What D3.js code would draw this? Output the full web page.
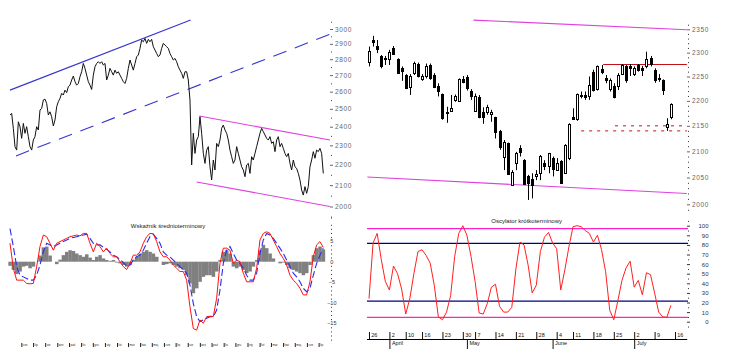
<!DOCTYPE html>
<html>
<head>
<meta charset="utf-8">
<script src="https://cdnjs.cloudflare.com/ajax/libs/d3/7.8.5/d3.min.js"></script>
<style>
body { margin: 0; background: #fff; }
svg { display: block; font-family: "Liberation Sans", Arial, sans-serif; }
</style>
</head>
<body>
<div id="viz"></div>
<script>
"use strict";

// lewy panel: WIG20 dziennie (odczyt z wykresu)
var wigDaily = [2465,2474,2391,2293,2275,2427,2400,2337,2418,2364,2400,2346,2293,2275,2328,2346,2400,2382,2493,2502,
	2551,2556,2531,2465,2483,2455,2404,2437,2512,2541,2560,2590,2580,2609,2594,2629,2639,2670,2694,2660,
	2639,2649,2690,2721,2773,2742,2700,2660,2639,2613,2700,2752,2773,2784,2773,2784,2763,2773,2670,2700,
	2742,2721,2700,2731,2711,2721,2700,2680,2660,2649,2680,2742,2795,2763,2731,2773,2816,2827,2870,2925,
	2914,2936,2903,2930,2914,2930,2881,2859,2837,2816,2827,2870,2903,2892,2881,2870,2837,2816,2795,2805,
	2784,2752,2731,2711,2680,2721,2721,2670,2551,2199,2364,2258,2328,2346,2455,2364,2258,2207,2275,2293,
	2190,2125,2224,2174,2310,2293,2328,2391,2409,2382,2364,2328,2275,2241,2207,2224,2293,2258,2224,2190,
	2174,2141,2199,2207,2157,2241,2224,2258,2293,2328,2364,2391,2373,2355,2337,2328,2346,2310,2319,2267,
	2328,2346,2293,2310,2284,2258,2241,2258,2207,2174,2224,2190,2182,2157,2125,2077,2053,2093,2061,2093,
	2190,2224,2267,2233,2275,2267,2284,2258,2157]

var macdLine = [4.5,-1.6,-4.5,-4.5,-4.5,-5.3,-5.4,-5.3,-1.2,3.7,
	6.5,6.1,4.5,2.8,4.5,4.9,5.3,5.7,6.1,6.3,
	6.5,6.3,6.9,6.9,4.5,2.4,4.5,3.7,2.4,3.3,
	2.0,1.2,1.2,0,-1.2,-1.9,-0.4,1.6,1.6,2.4,
	4.5,6.1,6.9,6.8,4.9,2.4,1.2,1.2,0.4,-0.8,
	-1.6,-2.4,-2.4,-4.5,-11.0,-16.3,-16.7,-14.2,-15.0,-13.4,
	-13.3,-13.4,-8.9,-0.4,3.3,3.3,2.8,-0.4,0.4,0,
	-2.8,-4.9,-4.9,-4.9,-1.6,5.3,6.9,7.3,6.9,5.3,
	3.7,2.0,0.8,-0.8,-3.3,-4.5,-5.3,-6.5,-8.1,-8.1,
	-4.9,1.2,4.1,4.9,3.5]

var macdSignal = [8.1,3.7,-1.2,-3.3,-3.7,-4.1,-4.5,-4.5,-3.3,-0.8,
	2.4,4.5,4.1,3.7,4.1,4.5,4.9,5.3,5.7,5.9,
	6.1,6.3,6.5,6.7,5.7,4.5,4.1,4.1,3.5,3.0,
	2.4,1.6,1.2,0.6,-0.2,-1.1,-0.8,0.4,1.2,1.6,
	2.8,4.5,6.1,6.7,5.7,4.5,2.4,1.6,1.2,0.4,
	-0.4,-1.2,-1.9,-2.8,-5.7,-10.2,-13.4,-14.6,-14.2,-13.8,
	-13.4,-13.4,-11.8,-6.9,-0.4,2.8,3.7,2.0,0.4,-0.4,
	-1.6,-3.3,-4.5,-4.5,-2.8,2.0,5.3,6.9,6.5,5.7,
	4.5,3.3,2.0,0.4,-1.2,-2.8,-3.7,-4.9,-6.5,-7.3,
	-6.5,-3.3,-0.4,1.6,3.3]

var macdHist = [-1.0,-2.0,-3.0,-2.4,-1.2,-1.0,-1.6,-1.2,0,1.5,
	3.5,3.7,1.5,0,-0.6,0.5,1.6,2.4,2.8,2.6,
	2.0,1.6,1.2,1.8,1.0,0.4,1.2,1.6,0.8,0.4,
	0.2,0.4,-0.2,-0.4,-0.8,-1.2,-0.8,0.5,1.2,2.0,
	2.4,2.8,2.4,2.0,1.2,0,-0.8,-0.6,-0.4,-0.8,
	-1.2,-1.6,-2.0,-3.3,-5.3,-7.7,-6.5,-4.9,-3.7,-3.3,
	-3.3,-3.7,-2.4,0.4,2.4,2.8,2.0,-1.2,-1.6,-1.2,
	-2.0,-2.8,-2.4,-1.2,0.4,2.8,4.1,3.3,2.0,0.8,
	0,-0.4,-0.2,-0.8,-1.6,-2.0,-2.4,-2.8,-3.3,-2.8,
	-0.8,1.6,3.3,3.7,3.0]

// linie trendu: [indeks, wartosc]
var blueTop = [[0, 2609], [108.4, 3062]]
var blueBottom = [[3.6, 2245], [193.8, 2972]]
var pinkTopL = [[113.6, 2459], [192, 2328]]
var pinkBottomL = [[112, 2115], [192, 2000]]

var leftStart = "2010-05-03", leftEnd = "2012-07-13"
var monthShortPl = ["sty","lut","mar","kwi","maj","cze","lip","sie","wrz","paź","lis","gru"]

// prawy panel: sesje 26.03 - 13.07.2012
var tradeDays = ["2012-03-26","2012-03-27","2012-03-28","2012-03-29","2012-03-30",
	"2012-04-02","2012-04-03","2012-04-04","2012-04-05",
	"2012-04-10","2012-04-11","2012-04-12","2012-04-13",
	"2012-04-16","2012-04-17","2012-04-18","2012-04-19","2012-04-20",
	"2012-04-23","2012-04-24","2012-04-25","2012-04-26","2012-04-27",
	"2012-04-30","2012-05-02","2012-05-04",
	"2012-05-07","2012-05-08","2012-05-09","2012-05-10","2012-05-11",
	"2012-05-14","2012-05-15","2012-05-16","2012-05-17","2012-05-18",
	"2012-05-21","2012-05-22","2012-05-23","2012-05-24","2012-05-25",
	"2012-05-28","2012-05-29","2012-05-30","2012-05-31","2012-06-01",
	"2012-06-04","2012-06-05","2012-06-06","2012-06-08",
	"2012-06-11","2012-06-12","2012-06-13","2012-06-14","2012-06-15",
	"2012-06-18","2012-06-19","2012-06-20","2012-06-21","2012-06-22",
	"2012-06-25","2012-06-26","2012-06-27","2012-06-28","2012-06-29",
	"2012-07-02","2012-07-03","2012-07-04","2012-07-05","2012-07-06",
	"2012-07-09","2012-07-10","2012-07-11","2012-07-12","2012-07-13"]
var axisExtraDays = ["2012-07-16"]

var candleOpen = [2281,2328,2314,2293,2287,2286,2309,2286,2268,2253,2228,2257,2276,2244,2251,2274,2253,2230,2213,2178,
	2180,2202,2200,2245,2248,2220,2180,2207,2178,2178,2173,2167,2139,2090,2116,2036,2077,2106,2083,2052,
	2048,2053,2058,2077,2071,2087,2065,2082,2058,2088,2168,2163,2212,2212,2209,2260,2224,2266,2246,2224,
	2230,2230,2255,2272,2272,2255,2274,2267,2271,2288,2264,2246,2243,2147,2167]
var candleHigh = [2313,2336,2327,2295,2293,2306,2314,2288,2271,2255,2255,2281,2279,2255,2277,2277,2257,2236,2215,2188,
	2212,2213,2246,2251,2253,2224,2215,2212,2187,2192,2182,2168,2142,2122,2117,2064,2099,2112,2085,2055,
	2058,2064,2093,2083,2097,2090,2087,2083,2114,2155,2185,2215,2219,2219,2250,2264,2273,2274,2253,2246,
	2236,2257,2276,2274,2276,2271,2276,2272,2302,2293,2267,2255,2244,2165,2195]
var candleLow = [2271,2313,2299,2267,2274,2274,2295,2257,2241,2224,2212,2253,2248,2241,2246,2243,2226,2209,2162,2156,
	2178,2198,2198,2236,2221,2202,2178,2165,2154,2172,2158,2125,2103,2064,2055,2034,2064,2090,2036,2008,
	2011,2045,2045,2064,2058,2052,2063,2039,2057,2083,2162,2160,2205,2202,2202,2219,2221,2255,2236,2219,
	2205,2222,2253,2237,2251,2251,2260,2251,2267,2271,2237,2239,2212,2140,2163]
var candleClose = [2304,2323,2307,2271,2288,2302,2297,2258,2262,2226,2251,2279,2251,2251,2272,2246,2229,2221,2165,2175,
	2185,2209,2245,2239,2226,2209,2210,2167,2167,2187,2178,2138,2109,2119,2057,2061,2096,2099,2038,2039,
	2036,2057,2091,2071,2096,2067,2077,2040,2112,2154,2164,2214,2209,2207,2233,2222,2272,2260,2243,2243,
	2207,2253,2274,2243,2267,2267,2264,2264,2286,2276,2243,2244,2222,2153,2194]

var stochK = [24,82,92,65,42,33,58,50,34,8,24,50,73,75,69,61,38,5,2,10,
	27,68,92,100,90,68,42,9,8,19,36,39,16,10,10,15,55,83,80,59,
	30,38,73,88,93,82,76,33,54,78,99,100,99,95,92,83,90,75,52,12,
	2,22,43,56,63,36,43,28,51,49,30,10,5,4.6,17]
var stochOuter = [4.5, 97]
var stochInner = [21.5, 81.5]

var pinkTopR = [[25.6, 2370], [77.9, 2349]]
var pinkBottomR = [[-0.4, 2051], [77.9, 2020]]
var resistance = [[57.4, 2275], [77.9, 2275]]
var supportA = [[60.3, 2150], [77.9, 2150]]
var supportB = [[52, 2140], [77.9, 2140]]
var monthNamesEn = ["January","February","March","April","May","June","July","August","September","October","November","December"]

var svg = d3.select("#viz")
	.append("svg")
	.attr("width", 733)
	.attr("height", 363)

svg.append("rect").attr("width", 733).attr("height", 363).attr("fill", "#fff")

var cleanAxis = function(g, size, color) {
	g.select(".domain").remove()
	g.attr("font-family", "Liberation Sans, Arial, sans-serif").attr("font-size", size)
	g.selectAll("line").attr("stroke", color)
	g.selectAll("text").attr("fill", color)
}

// ---------- lewy, cena ----------
var xL = d3.scaleLinear().domain([0, wigDaily.length - 1]).range([10, 323.3])
var yL = d3.scaleLog().domain([2000, 3000]).range([206.5, 29])
var segL = d3.line().x(function(d){ return xL(d[0]) }).y(function(d){ return yL(d[1]) })

svg.append("path").attr("d", segL(blueTop)).attr("stroke", "#3535d0").attr("stroke-width", 1.1).attr("fill", "none")
svg.append("path").attr("d", segL(blueBottom)).attr("stroke", "#3535d0").attr("stroke-width", 1.1)
	.attr("stroke-dasharray", "14,9").attr("fill", "none")
svg.append("path").attr("d", segL(pinkTopL)).attr("stroke", "#e040e0").attr("stroke-width", 1.1).attr("fill", "none")
svg.append("path").attr("d", segL(pinkBottomL)).attr("stroke", "#e040e0").attr("stroke-width", 1.1).attr("fill", "none")

svg.append("path")
	.attr("d", d3.line().x(function(d, i){ return xL(i) }).y(function(d){ return yL(d) })(wigDaily))
	.attr("stroke", "#111")
	.attr("stroke-width", 1)
	.attr("fill", "none")

var gL = svg.append("g").attr("transform", "translate(330,0)")
	.call(d3.axisRight(yL).tickValues(d3.range(2000, 3001, 100)).tickSize(3).tickPadding(2).tickFormat(d3.format("d")))
cleanAxis(gL, 6.5, "#666")
gL.selectAll("text").attr("letter-spacing", 0.6)
var gLm = svg.append("g").attr("transform", "translate(331,0)")
	.call(d3.axisRight(yL).tickValues(d3.range(1950, 3051, 50).filter(function(v){ return v % 100 !== 0 })).tickSize(1).tickFormat(""))
cleanAxis(gLm, 6, "#444")

// ---------- lewy, wskaznik ----------
var xM = d3.scaleLinear().domain([0, macdLine.length - 1]).range([10, 323.3])
var yM = d3.scaleLinear().domain([-15, 5]).range([323.2, 241.2])
var stepM = xM(1) - xM(0)

svg.append("g").selectAll("rect")
	.data(macdHist)
	.enter()
	.append("rect")
	.attr("x", function(d, i){ return xM(i) - stepM / 2 })
	.attr("width", stepM + 0.2)
	.attr("y", function(d){ return Math.min(yM(d), yM(0)) })
	.attr("height", function(d){ return Math.abs(yM(d) - yM(0)) })
	.attr("fill", "#808080")

svg.append("path")
	.attr("d", d3.line().x(function(d, i){ return xM(i) }).y(function(d){ return yM(d) })(macdSignal))
	.attr("stroke", "#2b2bf0").attr("stroke-width", 1.1).attr("stroke-dasharray", "7,3").attr("fill", "none")
svg.append("path")
	.attr("d", d3.line().x(function(d, i){ return xM(i) }).y(function(d){ return yM(d) })(macdLine))
	.attr("stroke", "#ff1010").attr("stroke-width", 1).attr("fill", "none")

svg.append("text").attr("x", 168).attr("y", 227.8).attr("text-anchor", "middle")
	.attr("font-size", 6).attr("fill", "#222").text("Wskaźnik średnioterminowy")

var gM = svg.append("g").attr("transform", "translate(331,0)")
	.call(d3.axisRight(yM).tickValues([-15, -10, -5, 0, 5]).tickSize(0).tickPadding(0))
cleanAxis(gM, 5.5, "#333")
gM.selectAll("text").attr("text-anchor", "middle").attr("x", 0.8)
var gMm = svg.append("g").attr("transform", "translate(331,0)")
	.call(d3.axisRight(yM).tickValues(d3.range(-19, 12).filter(function(v){ return v % 5 !== 0 })).tickSize(1).tickFormat(""))
cleanAxis(gMm, 5, "#333")

var parse = d3.timeParse("%Y-%m-%d")
var xT = d3.scaleTime().domain([parse(leftStart), parse(leftEnd)]).range([10, 323.3])
var gT = svg.append("g").attr("transform", "translate(0,343)")
	.call(d3.axisBottom(xT).ticks(d3.timeMonth.every(1)).tickSize(4)
		.tickFormat(function(d){ return monthShortPl[d.getMonth()] }))
cleanAxis(gT, 3, "#222")
gT.selectAll("text").attr("text-anchor", "start").attr("x", 1).attr("y", 0.6)

// ---------- prawy, swiece ----------
var allDates = tradeDays.concat(axisExtraDays).map(parse)
var xR = d3.scaleLinear().domain([0, 75]).range([369, 675])
var yR = d3.scaleLog().domain([2000, 2350]).range([204.3, 29.3])
var segR = d3.line().x(function(d){ return xR(d[0]) }).y(function(d){ return yR(d[1]) })

svg.append("path").attr("d", segR(pinkTopR)).attr("stroke", "#e040e0").attr("stroke-width", 1.2).attr("fill", "none")
svg.append("path").attr("d", segR(pinkBottomR)).attr("stroke", "#e040e0").attr("stroke-width", 1.2).attr("fill", "none")
svg.append("path").attr("d", segR(resistance)).attr("stroke", "#c0101a").attr("stroke-width", 1.1).attr("fill", "none")
svg.append("path").attr("d", segR(supportA)).attr("stroke", "#c0101a").attr("stroke-width", 1)
	.attr("stroke-dasharray", "3,5").attr("fill", "none")
svg.append("path").attr("d", segR(supportB)).attr("stroke", "#c0101a").attr("stroke-width", 1)
	.attr("stroke-dasharray", "3,5").attr("fill", "none")

var candles = svg.append("g").selectAll("g")
	.data(candleOpen)
	.enter()
	.append("g")

candles.append("line")
	.attr("x1", function(d, i){ return Math.round(xR(i)) + 0.5 })
	.attr("x2", function(d, i){ return Math.round(xR(i)) + 0.5 })
	.attr("y1", function(d, i){ return yR(candleHigh[i]) })
	.attr("y2", function(d, i){ return yR(candleLow[i]) })
	.attr("stroke", "#000")

candles.append("rect")
	.attr("x", function(d, i){ return Math.round(xR(i)) - 0.5 })
	.attr("width", 2)
	.attr("y", function(d, i){ return Math.round(yR(Math.max(d, candleClose[i]))) + 0.5 })
	.attr("height", function(d, i){
		return Math.max(1, Math.round(yR(Math.min(d, candleClose[i]))) - Math.round(yR(Math.max(d, candleClose[i]))))
	})
	.attr("fill", function(d, i){ return candleClose[i] >= d ? "#fff" : "#000" })
	.attr("stroke", "#000")
	.attr("stroke-width", 1)

var gR = svg.append("g").attr("transform", "translate(687,0)")
	.call(d3.axisRight(yR).tickValues(d3.range(2000, 2351, 50)).tickSize(3).tickPadding(2).tickFormat(d3.format("d")))
cleanAxis(gR, 6.5, "#666")
gR.selectAll("text").attr("letter-spacing", 0.6)
var gRm = svg.append("g").attr("transform", "translate(688,0)")
	.call(d3.axisRight(yR).tickValues(d3.range(1990, 2361, 10).filter(function(v){ return v % 50 !== 0 })).tickSize(1).tickFormat(""))
cleanAxis(gRm, 6, "#333")

// ---------- prawy, oscylator ----------
var yS = d3.scaleLinear().domain([0, 100]).range([321.7, 225.7])

svg.append("g").selectAll("line")
	.data(stochOuter.concat(stochInner))
	.enter()
	.append("line")
	.attr("x1", xR(-0.5)).attr("x2", xR(78.2))
	.attr("y1", function(d){ return yS(d) }).attr("y2", function(d){ return yS(d) })
	.attr("stroke", function(d){ return stochOuter.indexOf(d) >= 0 ? "#ff22cc" : "#000080" })
	.attr("stroke-width", 1.2)

svg.append("path")
	.attr("d", d3.line().x(function(d, i){ return xR(i) }).y(function(d){ return yS(d) })(stochK))
	.attr("stroke", "#ff2020").attr("stroke-width", 1).attr("fill", "none")

svg.append("text").attr("x", 526.7).attr("y", 223.3).attr("text-anchor", "middle")
	.attr("font-size", 6).attr("fill", "#222").text("Oscylator krótkoterminowy")

var gS = svg.append("g").attr("transform", "translate(687,0)")
	.call(d3.axisRight(yS).tickValues(d3.range(0, 101, 10)).tickSize(3).tickPadding(2))
cleanAxis(gS, 6, "#333")
gS.selectAll("text").attr("text-anchor", "end").attr("x", 21.5)
var gSm = svg.append("g").attr("transform", "translate(688,0)")
	.call(d3.axisRight(yS).tickValues(d3.range(-5, 106, 5).filter(function(v){ return v % 10 !== 0 })).tickSize(1).tickFormat(""))
cleanAxis(gSm, 6, "#333")

// os dat
var dayIdx = allDates.map(function(d, i){ return i })
var weekIdx = dayIdx.filter(function(i){
	return i === 0 || +d3.timeMonday.floor(allDates[i]) !== +d3.timeMonday.floor(allDates[i - 1])
})
var monthIdx = dayIdx.filter(function(i){
	return i > 0 && allDates[i].getMonth() !== allDates[i - 1].getMonth()
})

svg.append("line")
	.attr("x1", xR(-0.5)).attr("x2", xR(78))
	.attr("y1", 339.5).attr("y2", 339.5)
	.attr("stroke", "#000")

var gW = svg.append("g").attr("transform", "translate(0,339)")
	.call(d3.axisTop(xR).tickValues(weekIdx).tickSize(7).tickFormat(function(i){ return allDates[i].getDate() }))
cleanAxis(gW, 5.5, "#111")
gW.selectAll("text").attr("text-anchor", "start").attr("x", 1.8).attr("y", -1.6)

var gMo = svg.append("g").attr("transform", "translate(0,339)")
	.call(d3.axisBottom(xR).tickValues(monthIdx).tickSize(10).tickFormat(function(i){ return monthNamesEn[allDates[i].getMonth()] }))
cleanAxis(gMo, 5.5, "#111")
gMo.selectAll("text").attr("text-anchor", "start").attr("x", 2).attr("y", 2.4)

</script>
</body>
</html>
